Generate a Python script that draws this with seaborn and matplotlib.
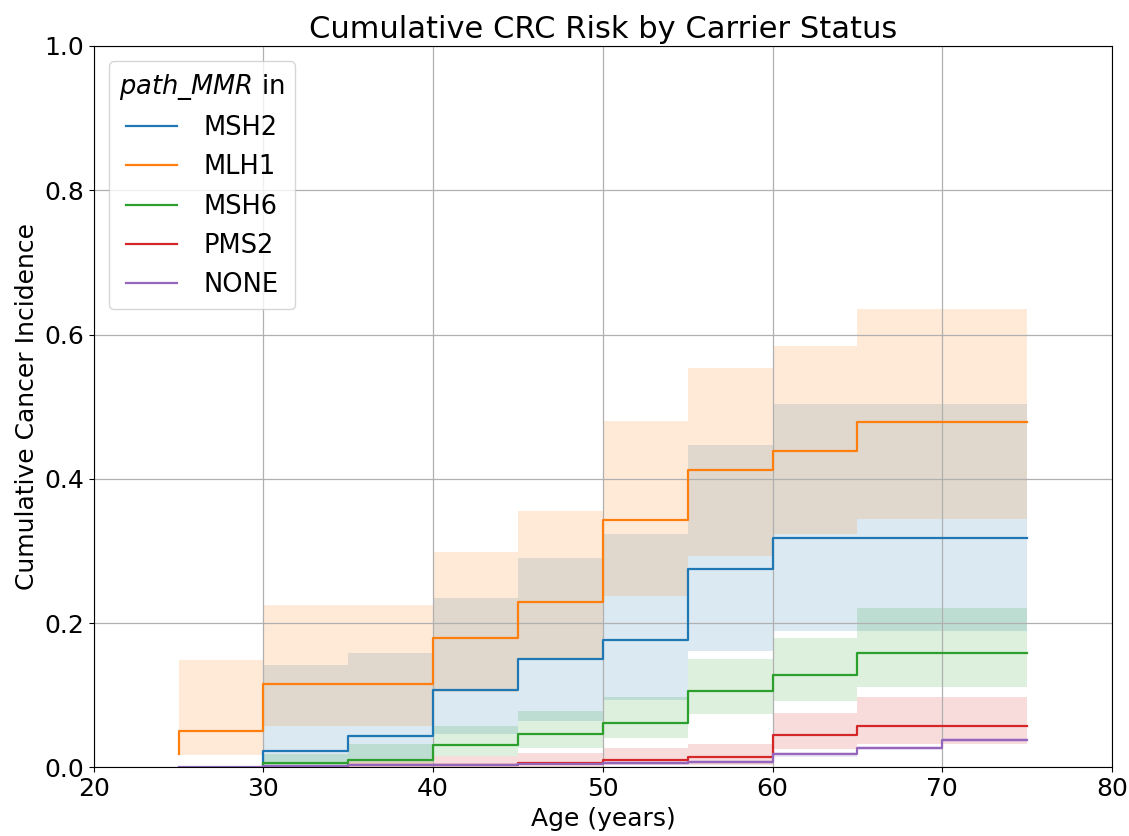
import matplotlib

matplotlib.use("Agg")

import matplotlib.pyplot as plt
import pandas as pd
import seaborn as sns

# ==========================================================
# Data
# ==========================================================

GENES = ["MSH2", "MLH1", "MSH6", "PMS2", "NONE"]
COLORS = ["#1f77b4", "#ff7f0e", "#2ca02c", "#d62728", "#9467bd"]

# Ages of the step edges per gene; value i holds on (age[i-1], age[i]]
AGES = {
    "MSH2": [30, 35, 40, 45, 50, 55, 60, 65, 70, 75],
    "MLH1": [25, 30, 35, 40, 45, 50, 55, 60, 65, 70, 75],
    "MSH6": [30, 35, 40, 45, 50, 55, 60, 65, 70, 75],
    "PMS2": [35, 40, 45, 50, 55, 60, 65, 70, 75],
    "NONE": [25, 30, 35, 40, 45, 50, 55, 60, 65, 70, 75],
}

INCIDENCE = {
    "MSH2": [0.0, 0.0225, 0.043, 0.107, 0.151, 0.177, 0.275, 0.318, 0.318, 0.318],
    "MLH1": [0.018, 0.051, 0.115, 0.115, 0.179, 0.229, 0.343, 0.412, 0.438, 0.479, 0.479],
    "MSH6": [0.0, 0.006, 0.0105, 0.031, 0.046, 0.062, 0.106, 0.128, 0.159, 0.159],
    "PMS2": [0.0, 0.003, 0.004, 0.006, 0.0105, 0.015, 0.045, 0.058, 0.058],
    "NONE": [0.0, 0.001, 0.002, 0.003, 0.004, 0.005, 0.0066, 0.0075, 0.018, 0.027, 0.038],
}

UPPER = {
    "MSH2": [0.0, 0.142, 0.159, 0.2355, 0.29, 0.323, 0.447, 0.5035, 0.5035, 0.5035],
    "MLH1": [0.018, 0.149, 0.225, 0.225, 0.298, 0.355, 0.48, 0.554, 0.584, 0.635, 0.635],
    "MSH6": [0.0, 0.019, 0.032, 0.058, 0.078, 0.097, 0.15, 0.18, 0.2216, 0.2216],
    "PMS2": [0.0, 0.01, 0.016, 0.0206, 0.0276, 0.032, 0.076, 0.097, 0.097],
    "NONE": [0.0, 0.002, 0.003, 0.004, 0.006, 0.007, 0.009, 0.010, 0.021, 0.030, 0.041],
}

LOWER = {
    "MSH2": [0.0, 0.002, 0.012, 0.046, 0.065, 0.094, 0.162, 0.189, 0.189, 0.189],
    "MLH1": [0.018, 0.017, 0.057, 0.057, 0.104, 0.152, 0.238, 0.293, 0.323, 0.344, 0.344],
    "MSH6": [0.0, 0.0, 0.002, 0.016, 0.0276, 0.0415, 0.074, 0.092, 0.1117, 0.1117],
    "PMS2": [0.0, 0.0, 0.0, 0.001, 0.003, 0.004, 0.025, 0.032, 0.032],
    "NONE": [0.0, 0.0, 0.001, 0.002, 0.002, 0.003, 0.004, 0.005, 0.015, 0.024, 0.035],
}


def build_frame() -> pd.DataFrame:
    """
    Long table of the step curves for seaborn.
    """

    rows = []
    for gene in GENES:
        for age, value in zip(AGES[gene], INCIDENCE[gene]):
            rows.append({"age": age, "incidence": value, "gene": gene})
    return pd.DataFrame(rows)


def main() -> None:
    df = build_frame()

    fig, ax = plt.subplots(figsize=(11.29, 8.36), dpi=100)
    fig.subplots_adjust(left=0.083, right=0.985, top=0.945, bottom=0.082)

    # confidence bands
    for gene, color in zip(GENES, COLORS):
        ax.fill_between(
            AGES[gene],
            LOWER[gene],
            UPPER[gene],
            step="pre",
            color=color,
            alpha=0.16,
            linewidth=0,
        )

    sns.lineplot(
        data=df,
        x="age",
        y="incidence",
        hue="gene",
        hue_order=GENES,
        palette=COLORS,
        drawstyle="steps-pre",
        linewidth=1.6,
        errorbar=None,
        ax=ax,
    )

    ax.set_xlim(20, 80)
    ax.set_ylim(0, 1.0)
    ax.grid(True, color="#b0b0b0", linewidth=0.9)

    ax.set_title("Cumulative CRC Risk by Carrier Status", fontsize=22)
    ax.set_xlabel("Age (years)", fontsize=18)
    ax.set_ylabel("Cumulative Cancer Incidence", fontsize=18)
    ax.tick_params(labelsize=18)

    ax.legend(
        title=r"$\it{path\_MMR}$ in",
        loc="upper left",
        fontsize=18.5,
        title_fontsize=18.5,
        labelspacing=0.52,
        handletextpad=1.0,
        borderaxespad=0.6,
    )

    fig.savefig("out.png", dpi=100)


if __name__ == "__main__":
    main()
